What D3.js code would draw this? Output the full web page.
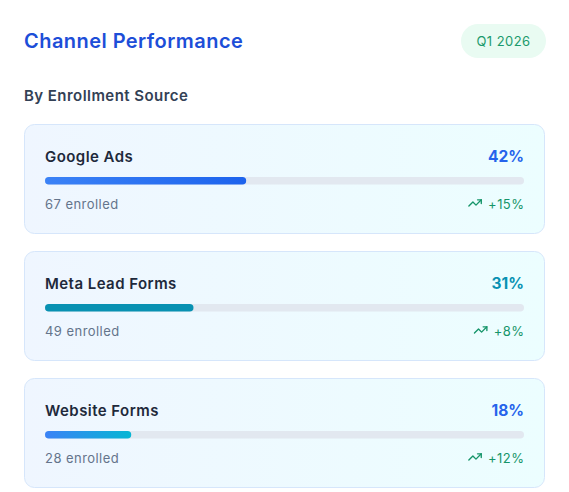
<!DOCTYPE html>
<html lang="en">
<head>
    <meta charset="UTF-8">
    <title>Channel Performance</title>
    <script src="https://d3js.org/d3.v7.min.js"></script>
    <style>
        body { margin: 0; background: #ffffff; font-family: Inter, "Noto Sans", Arial, sans-serif; }
        svg { display: block; }
        text { letter-spacing: 0.45px; }
        text.pct { letter-spacing: 0; }
    </style>
</head>
<body>
    <svg id="chart"></svg>
    <script>
        // values
        const channels = ["Google Ads", "Meta Lead Forms", "Website Forms"];
        const shares = [42, 31, 18];
        const enrolled = [67, 49, 28];
        const growth = [15, 8, 12];
        const period = "Q1 2026";

        const width = 569, height = 492;
        const svg = d3.select("#chart").attr("width", width).attr("height", height);
        const defs = svg.append("defs");

        // card background gradient
        const cardGrad = defs.append("linearGradient").attr("id", "cardGrad");
        cardGrad.append("stop").attr("offset", "0%").attr("stop-color", "#eff6ff");
        cardGrad.append("stop").attr("offset", "100%").attr("stop-color", "#ecfeff");

        const barStyles = [
            { from: "#3b82f6", to: "#1d63ed", text: "#2563eb" },
            { from: "#0891b2", to: "#0891b2", text: "#0891b2" },
            { from: "#3b82f6", to: "#06b6d4", text: "#2563eb" }
        ];
        barStyles.forEach((s, i) => {
            const g = defs.append("linearGradient").attr("id", "bar" + i);
            g.append("stop").attr("offset", "0%").attr("stop-color", s.from);
            g.append("stop").attr("offset", "100%").attr("stop-color", s.to);
        });

        // header
        svg.append("text")
            .attr("x", 24).attr("y", 48)
            .attr("font-size", 20).attr("font-weight", 600)
            .attr("fill", "#1d4ed8")
            .text("Channel Performance");

        const badge = svg.append("g").attr("transform", "translate(461,24)");
        badge.append("rect")
            .attr("width", 85).attr("height", 34).attr("rx", 17)
            .attr("fill", "#e9fbf2");
        badge.append("text")
            .attr("x", 42.5).attr("y", 22)
            .attr("text-anchor", "middle")
            .attr("font-size", 13).attr("fill", "#1b9a6c")
            .text(period);

        svg.append("text")
            .attr("x", 24).attr("y", 101)
            .attr("font-size", 15).attr("font-weight", 600)
            .attr("fill", "#334155")
            .text("By Enrollment Source");

        // card layout
        const cardX = 24, cardW = 521;
        const y = d3.scaleBand().domain(channels).range([124, 488]).paddingInner(17 / 127);
        const x = d3.scaleLinear().domain([0, 100]).range([0, 479]);
        const padL = 21;

        const cards = svg.append("g").selectAll("g")
            .data(channels)
            .join("g")
            .attr("transform", d => `translate(${cardX},${y(d)})`);

        cards.append("rect")
            .attr("x", 0.5).attr("y", 0.5)
            .attr("width", cardW - 1).attr("height", y.bandwidth() - 1)
            .attr("rx", 10)
            .attr("fill", "url(#cardGrad)")
            .attr("stroke", "#d6e6fb");

        cards.append("text")
            .attr("x", padL).attr("y", 38)
            .attr("font-size", 15).attr("font-weight", 600)
            .attr("fill", "#1e293b")
            .text(d => d);

        cards.append("text")
            .attr("class", "pct")
            .attr("x", padL + x(100)).attr("y", 38)
            .attr("text-anchor", "end")
            .attr("font-size", 15.5).attr("font-weight", 650)
            .attr("fill", (d, i) => barStyles[i].text)
            .text((d, i) => shares[i] + "%");

        cards.append("rect")
            .attr("x", padL).attr("y", 53)
            .attr("width", x(100)).attr("height", 7.5).attr("rx", 3.75)
            .attr("fill", "#e2e8f0");

        cards.append("rect")
            .attr("x", padL).attr("y", 53)
            .attr("width", (d, i) => x(shares[i])).attr("height", 7.5).attr("rx", 3.75)
            .attr("fill", (d, i) => `url(#bar${i})`);

        cards.append("text")
            .attr("x", padL).attr("y", 85)
            .attr("font-size", 13)
            .attr("fill", "#64748b")
            .text((d, i) => enrolled[i] + " enrolled");

        cards.each(function (d, i) {
            const g = d3.select(this);
            const t = g.append("text")
                .attr("x", padL + x(100) + 0.45).attr("y", 85)
                .attr("text-anchor", "end")
                .attr("font-size", 13)
                .attr("fill", "#16956a")
                .text("+" + growth[i] + "%");
            const w = t.node().getComputedTextLength();
            // trending-up icon
            const icon = g.append("g")
                .attr("transform", `translate(${padL + x(100) - w - 20},${71.5}) scale(0.62)`)
                .attr("fill", "none").attr("stroke", "#16956a")
                .attr("stroke-width", 2.2)
                .attr("stroke-linecap", "round").attr("stroke-linejoin", "round");
            icon.append("polyline").attr("points", "22 7 13.5 15.5 8.5 10.5 2 17");
            icon.append("polyline").attr("points", "16 7 22 7 22 13");
        });
    </script>
</body>
</html>
